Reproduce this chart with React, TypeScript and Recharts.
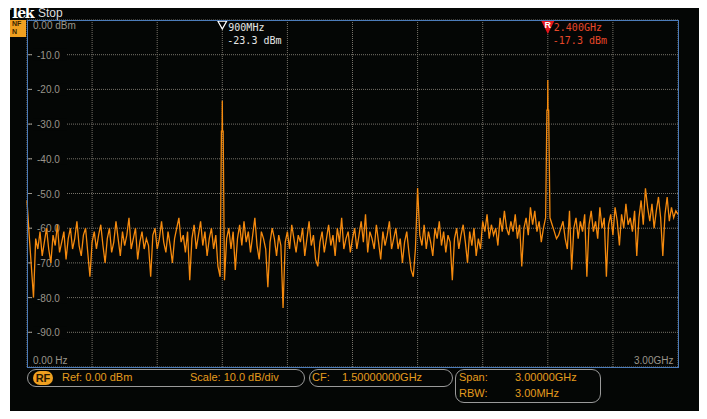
import { CartesianGrid, Line, LineChart, ReferenceDot, XAxis, YAxis } from "recharts"

// analyser settings
const spanMHz = 3000
const stepMHz = 10

// trace level, one reading every 10 MHz from 0 Hz to 3.00 GHz
const levelDbm = [
  -52, -62, -71, -80, -63, -66, -61, -68, -64, -60,
  -66, -70, -62, -65, -59, -67, -64, -61, -69, -63,
  -60, -66, -63, -58, -65, -68, -62, -60, -67, -74,
  -64, -61, -66, -62, -59, -65, -70, -63, -60, -67,
  -64, -58, -63, -68, -61, -65, -62, -57, -66, -63,
  -60, -69, -64, -61, -66, -63, -65, -74, -62, -60,
  -66, -63, -58, -64, -67, -61, -65, -70, -63, -60,
  -57, -64, -62, -67, -61, -75, -63, -59, -66, -62,
  -58, -65, -61, -68, -63, -60, -66, -62, -71, -74,
  -23.3, -75, -63, -60, -66, -61, -72, -63, -59, -65,
  -58, -64, -61, -67, -62, -57, -65, -69, -61, -63,
  -66, -77, -64, -60, -63, -68, -62, -65, -83, -64,
  -61, -66, -59, -63, -67, -62, -64, -60, -68, -63,
  -58, -65, -62, -69, -71, -64, -61, -67, -63, -59,
  -65, -62, -68, -60, -64, -57, -66, -63, -61, -67,
  -63, -60, -66, -62, -58, -64, -56, -67, -61, -63,
  -66, -59, -64, -69, -61, -65, -62, -58, -66, -63,
  -60, -66, -63, -70, -64, -61, -67, -72, -74, -66,
  -48.4, -62, -65, -59, -66, -61, -64, -68, -60, -63,
  -58, -65, -61, -67, -62, -64, -75, -63, -60, -66,
  -62, -59, -64, -70, -61, -65, -60, -68, -63, -66,
  -58, -61, -56, -63, -59, -62, -60, -65, -57, -61,
  -55, -60, -62, -58, -61, -56, -63, -59, -71, -60,
  -57, -62, -54, -59, -55, -61, -58, -64, -60, -57,
  -17.3, -57, -59, -61, -63, -62, -60, -58, -63, -66,
  -55, -72, -60, -57, -63, -58, -61, -56, -74, -59,
  -55, -61, -58, -63, -54, -60, -57, -74, -59, -56,
  -62, -54, -58, -65, -56, -60, -53, -59, -57, -61,
  -55, -68, -57, -52, -59, -48.5, -54, -58, -53, -60,
  -55, -51, -57, -68, -56, -51, -58, -54, -57, -55,
  -56,
]

// shoulders of the two carriers
const peakFreqMHz = [896, 899, 901, 904, 2396, 2399, 2401, 2404]
const peakLevelDbm = [-32, -32, -32, -32, -26, -26, -26, -26]

const freqTicks = [0, 300, 600, 900, 1200, 1500, 1800, 2100, 2400, 2700, 3000]
const levelTicks = [0, -10, -20, -30, -40, -50, -60, -70, -80, -90, -100]
const levelLabels = ["0.00 dBm", "-10.0", "-20.0", "-30.0", "-40.0", "-50.0", "-60.0", "-70.0", "-80.0", "-90.0", ""]

const markerFreq = ["900MHz", "2.400GHz"]
const markerLevel = ["-23.3 dBm", "-17.3 dBm"]
const markerAt = [900, 2400]

const trace = [
  ...levelDbm.map((v, i) => ({ f: i * stepMHz, v })),
  ...peakFreqMHz.map((f, i) => ({ f, v: peakLevelDbm[i] })),
].sort((a, b) => a.f - b.f)

const margin = { top: 20, right: 29, bottom: 52, left: 27 }
const sans = "'Liberation Sans', Arial, sans-serif"
const mono = "'DejaVu Sans Mono', monospace"
const amber = "#e59c1e"
const gray = "#9a958b"

function LevelTick(props: any) {
  const { y, payload } = props
  const label = levelLabels[levelTicks.indexOf(payload.value)]
  if (!label) return <g />
  if (payload.value === 0) {
    return (
      <text x={33} y={y + 9} fill={gray} fontSize={10} fontFamily={sans}>
        {label}
      </text>
    )
  }
  return (
    <g>
      <rect x={33} y={y - 6} width={34} height={12} fill="#040605" />
      <line x1={28} x2={32} y1={y} y2={y} stroke={gray} />
      <text x={37} y={y + 4} fill={gray} fontSize={10} fontFamily={sans}>
        {label}
      </text>
    </g>
  )
}

function Marker(props: any) {
  const { cx, cy, idx } = props
  const ref = idx === 1
  const color = ref ? "#e8482a" : "#e6e6e6"
  return (
    <g>
      {ref ? (
        <g>
          <polygon points={`${cx - 7},${cy} ${cx + 7},${cy} ${cx},${cy + 14}`} fill="#e4141a" />
          <text x={cx} y={cy + 8} fill="#fff" fontSize={9} fontWeight="bold" textAnchor="middle" fontFamily={sans}>
            R
          </text>
        </g>
      ) : (
        <polygon points={`${cx - 4.5},${cy + 1} ${cx + 4.5},${cy + 1} ${cx},${cy + 9}`} fill="#000" stroke="#fff" strokeWidth={1.3} />
      )}
      <text x={cx + 6} y={cy + 11} fill={color} fontSize={10} fontFamily={mono}>
        {markerFreq[idx]}
      </text>
      <text x={cx + 5} y={cy + 24} fill={color} fontSize={10} fontFamily={mono}>
        {markerLevel[idx]}
      </text>
    </g>
  )
}

const abs = (s: any) => ({ position: "absolute" as const, ...s })

export default function App() {
  return (
    <div style={{ position: "relative", width: 707, height: 419, margin: -8, background: "#fff", overflow: "hidden" }}>
      <div style={abs({ left: 10, top: 6, width: 692, height: 413, background: "#040605" })} />

      <div style={abs({ left: 0, top: 0 })}>
        <LineChart width={707} height={419} data={trace} margin={margin}>
          <CartesianGrid stroke="#77736a" strokeDasharray="1 1" />
          <XAxis type="number" dataKey="f" domain={[0, spanMHz]} ticks={freqTicks} hide />
          <YAxis
            type="number"
            dataKey="v"
            domain={[-100, 0]}
            ticks={levelTicks}
            interval={0}
            mirror
            axisLine={false}
            tickLine={false}
            tick={LevelTick}
          />
        </LineChart>
      </div>

      <div style={abs({ left: 0, top: 0 })}>
        <LineChart width={707} height={419} data={trace} margin={margin}>
          <XAxis type="number" dataKey="f" domain={[0, spanMHz]} ticks={freqTicks} hide />
          <YAxis type="number" domain={[-100, 0]} ticks={levelTicks} hide />
          <Line dataKey="v" stroke="#f58a0e" strokeWidth={1.3} dot={false} isAnimationActive={false} />
          {markerAt.map((f, i) => (
            <ReferenceDot key={f} x={f} y={0} shape={(p: any) => <Marker {...p} idx={i} />} />
          ))}
        </LineChart>
      </div>

      {/* plot frame */}
      <div style={abs({ left: 27, top: 20, width: 652, height: 348, boxSizing: "border-box", border: "1px solid #4c7cba" })} />

      <div style={abs({ left: 33, top: 355, color: gray, font: `10px ${sans}` })}>0.00 Hz</div>
      <div style={abs({ left: 634, top: 355, color: gray, font: `10px ${sans}` })}>3.00GHz</div>

      {/* header */}
      <div style={abs({ left: 10, top: 6, color: "#fff", font: `bold 14px 'DejaVu Serif', serif`, letterSpacing: -1.5, lineHeight: "14px" })}>Tek</div>
      <div style={abs({ left: 38, top: 6, color: "#ddd", font: `12px ${sans}`, lineHeight: "14px" })}>Stop</div>
      <div
        style={abs({
          left: 10,
          top: 20,
          width: 16,
          height: 17,
          background: "#f0a020",
          color: "#3a2400",
          font: `bold 7px ${sans}`,
          lineHeight: "8px",
          paddingLeft: 2,
          boxSizing: "border-box",
        })}
      >
        NF
        <br />N
      </div>

      {/* readouts */}
      <div style={abs({ left: 27, top: 369, width: 278, height: 18, boxSizing: "border-box", border: "1px solid #9a9a9a", borderRadius: 9 })} />
      <div style={abs({ left: 33, top: 371, width: 20, height: 14, borderRadius: 7, background: "#f0a020", color: "#2a1800", font: `bold 11px ${sans}`, textAlign: "center", lineHeight: "14px" })}>
        RF
      </div>
      <div style={abs({ left: 62, top: 371, color: amber, font: `11px ${sans}` })}>Ref: 0.00 dBm</div>
      <div style={abs({ left: 190, top: 371, color: amber, font: `11px ${sans}` })}>Scale: 10.0 dB/div</div>

      <div style={abs({ left: 309, top: 369, width: 144, height: 18, boxSizing: "border-box", border: "1px solid #9a9a9a", borderRadius: 9 })} />
      <div style={abs({ left: 312, top: 371, color: amber, font: `11px ${sans}` })}>CF:</div>
      <div style={abs({ left: 342, top: 371, color: amber, font: `11px ${sans}` })}>1.50000000GHz</div>

      <div style={abs({ left: 455, top: 369, width: 146, height: 34, boxSizing: "border-box", border: "1px solid #9a9a9a", borderRadius: 9 })} />
      <div style={abs({ left: 459, top: 371, color: amber, font: `11px ${sans}` })}>Span:</div>
      <div style={abs({ left: 515, top: 371, color: amber, font: `11px ${sans}` })}>3.00000GHz</div>
      <div style={abs({ left: 459, top: 387, color: amber, font: `11px ${sans}` })}>RBW:</div>
      <div style={abs({ left: 515, top: 387, color: amber, font: `11px ${sans}` })}>3.00MHz</div>
    </div>
  )
}
